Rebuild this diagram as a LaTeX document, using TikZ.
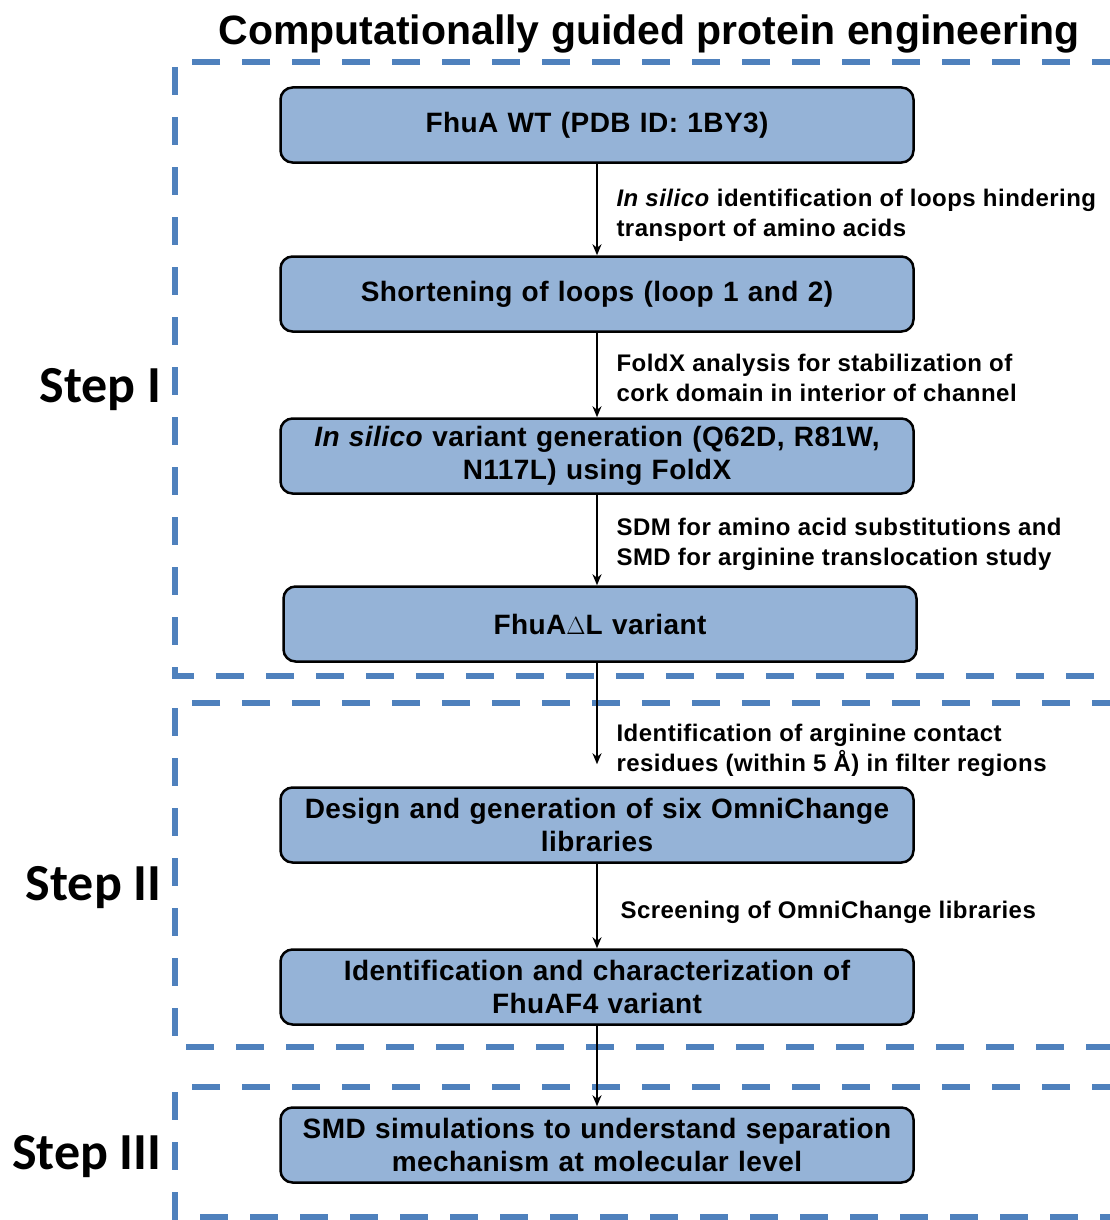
\documentclass[tikz,border=0pt]{standalone}
\usepackage{fontspec}
\setmainfont{Liberation Sans}
\newfontfamily\stepfont{Carlito}
\usetikzlibrary{arrows.meta}

\definecolor{boxblue}{RGB}{149,179,215}
\definecolor{dashblue}{RGB}{79,129,189}

\tikzset{
  stage/.style={draw, line width=2.5pt, rounded corners=12pt, fill=boxblue,
    minimum width=633pt, minimum height=75pt, text width=620pt, align=center,
    font=\fontsize{28}{33}\selectfont\bfseries\addfontfeatures{LetterSpace=1.5}},
  note/.style={anchor=west, align=left,
    font=\fontsize{24}{30}\selectfont\bfseries\addfontfeatures{LetterSpace=2}},
  steplabel/.style={anchor=east, font=\fontsize{52}{58}\selectfont\stepfont\bfseries},
  region/.style={dashblue, line width=6pt, dash pattern=on 28pt off 22pt},
  flow/.style={-{Stealth[length=11pt,width=9pt]}, line width=2pt}
}

\begin{document}
\begin{tikzpicture}[x=1pt,y=-1pt]
\useasboundingbox (0,0) rectangle (1110,1220);

% title and step frames
\node[font=\fontsize{41}{46}\selectfont\bfseries] (title) at (649,34) {Computationally guided protein engineering};
\draw[region] (1120,62) -- (175,62) -- (175,676) -- (1120,676);
\draw[region] (1120,703) -- (175,703) -- (175,1047) -- (1120,1047);
\draw[region] (1120,1087) -- (175,1087) -- (175,1217) -- (1120,1217);

\path
(165,390) node[steplabel](s1) {Step I}
(165,888) node[steplabel](s2) {Step II}
(165,1157) node[steplabel](s3) {Step III};

% boxes
\path
(597,125) node[stage](wt) {FhuA WT (PDB ID: 1BY3)}
(597,294) node[stage](short) {Shortening of loops (loop 1 and 2)}
(597,456) node[stage](insil) {\textit{In silico} variant generation (Q62D, R81W,\\ N117L) using FoldX}
(600,624) node[stage](dl) {FhuA$\Delta$L variant}
(597,825) node[stage](omni) {Design and generation of six OmniChange\\ libraries}
(597,987) node[stage](f4) {Identification and characterization of\\ FhuAF4 variant}
(597,1145) node[stage](smd) {SMD simulations to understand separation\\ mechanism at molecular level};

% arrows
\draw[flow] (wt.south -| 597,0) -- (short.north -| 597,0);
\draw[flow] (short.south -| 597,0) -- (insil.north -| 597,0);
\draw[flow] (insil.south -| 597,0) -- (dl.north -| 597,0);
\draw[flow, shorten >=22pt] (dl.south -| 597,0) -- (omni.north -| 597,0);
\draw[flow] (omni.south -| 597,0) -- (f4.north -| 597,0);
\draw[flow] (f4.south -| 597,0) -- (smd.north -| 597,0);

% arrow labels
\path
(613,215) node[note](n1) {\textit{In silico} identification of loops hindering\\ transport of amino acids}
(613,378) node[note](n2) {FoldX analysis for stabilization of\\ cork domain in interior of channel}
(613,544) node[note](n3) {SDM for amino acid substitutions and\\ SMD for arginine translocation study}
(613,750) node[note](n4) {Identification of arginine contact\\ residues (within 5 \AA) in filter regions}
(617,912) node[note](n5) {Screening of OmniChange libraries};
\end{tikzpicture}
\end{document}
